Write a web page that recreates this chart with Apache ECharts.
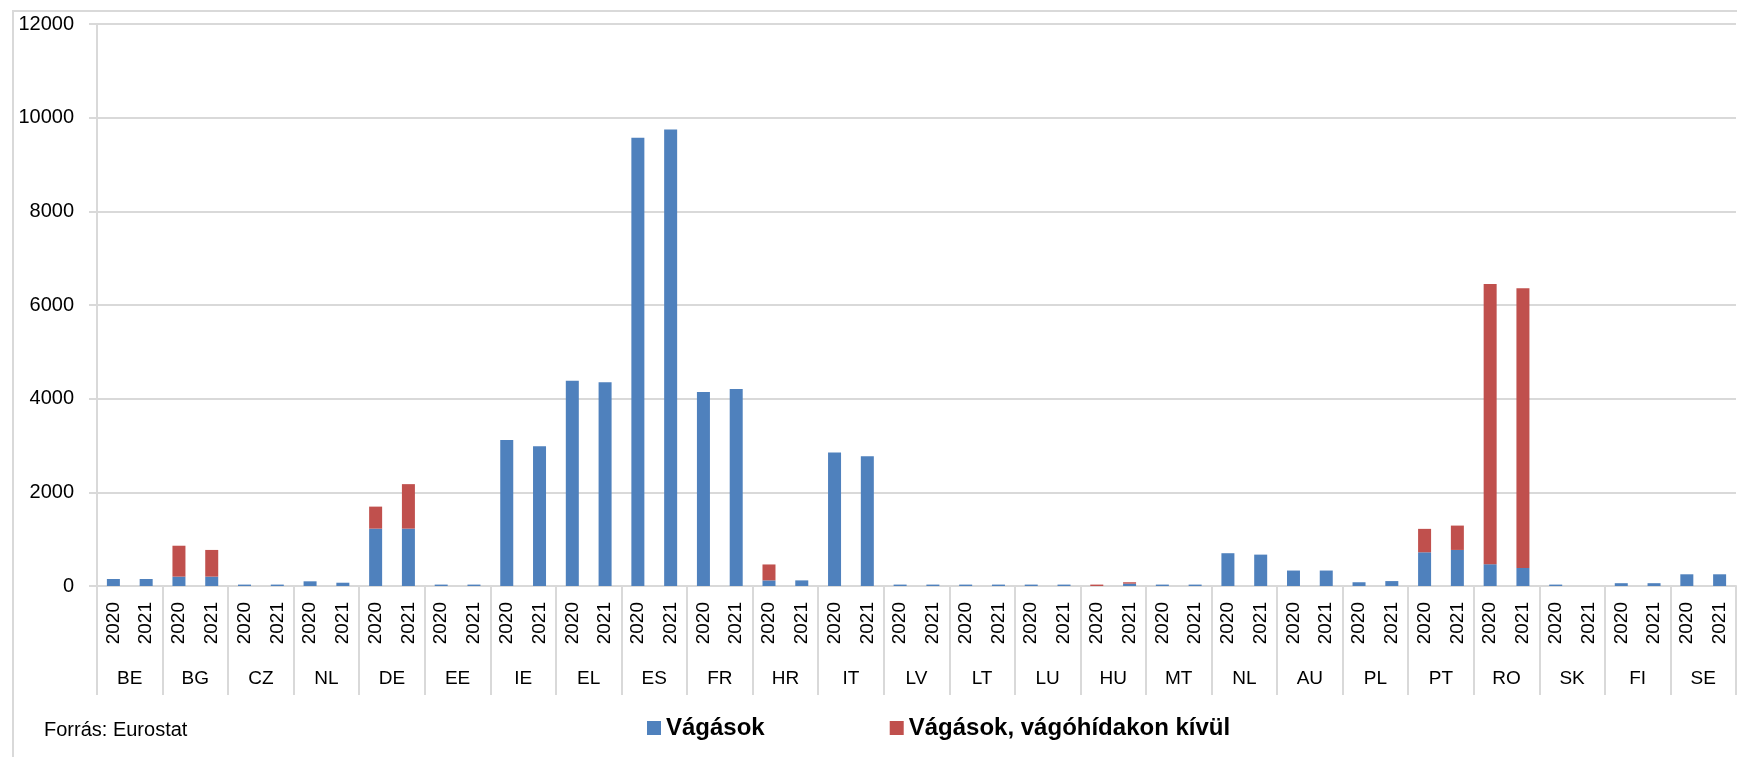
<!DOCTYPE html>
<html>
<head>
<meta charset="utf-8">
<script src="https://cdn.jsdelivr.net/npm/echarts@6/dist/echarts.min.js"></script>
<style>
  html, body { margin: 0; padding: 0; background: #fff; }
  #chart { width: 1737px; height: 757px; }
</style>
</head>
<body>
<div id="chart"></div>
<script>
var countries = ["BE", "BG", "CZ", "NL", "DE", "EE", "IE", "EL", "ES", "FR", "HR", "IT", "LV",
  "LT", "LU", "HU", "MT", "NL", "AU", "PL", "PT", "RO", "SK", "FI", "SE"];
var years = ["2020", "2021"];

// Vágások (blue), 2020/2021 per country
var slaughter = [
  150, 150,   // BE
  200, 200,   // BG
  30, 30,     // CZ
  100, 70,    // NL
  1225, 1225, // DE
  30, 30,     // EE
  3120, 2985, // IE
  4380, 4350, // EL
  9570, 9745, // ES
  4140, 4205, // FR
  120, 120,   // HR
  2850, 2770, // IT
  30, 30,     // LV
  30, 30,     // LT
  30, 30,     // LU
  0, 50,      // HU
  30, 30,     // MT
  700, 670,   // NL
  330, 330,   // AU
  80, 105,    // PL
  720, 770,   // PT
  465, 385,   // RO
  30, 0,      // SK
  60, 60,     // FI
  250, 250    // SE
];

// Vágások, vágóhídakon kívül (red)
var outside = [
  0, 0,       // BE
  660, 570,   // BG
  0, 0,       // CZ
  0, 0,       // NL
  470, 950,   // DE
  0, 0,       // EE
  0, 0,       // IE
  0, 0,       // EL
  0, 0,       // ES
  0, 0,       // FR
  340, 0,     // HR
  0, 0,       // IT
  0, 0,       // LV
  0, 0,       // LT
  0, 0,       // LU
  30, 30,     // HU
  0, 0,       // MT
  0, 0,       // NL
  0, 0,       // AU
  0, 0,       // PL
  500, 520,   // PT
  5985, 5970, // RO
  0, 0,       // SK
  0, 0,       // FI
  0, 0        // SE
];

var yearLabels = [];
countries.forEach(function () {
  years.forEach(function (y) { yearLabels.push(y); });
});

var chartDom = document.getElementById("chart");
var myChart = echarts.init(chartDom);
var gridColor = "#d9d9d9";
var font = "'Liberation Sans', Arial, sans-serif";

var option = {
  animation: false,
  textStyle: { fontFamily: font },
  graphic: [
    {
      type: "rect",
      shape: { x: 13, y: 11, width: 1800, height: 800 },
      style: { fill: "none", stroke: gridColor, lineWidth: 2 },
      silent: true
    }
  ],
  title: {
    text: "Forrás: Eurostat",
    left: 44,
    top: 720,
    padding: 0,
    textStyle: { fontSize: 20, fontWeight: "normal", color: "#000", fontFamily: font }
  },
  legend: {
    left: 647,
    top: 716,
    padding: 0,
    itemWidth: 14,
    itemHeight: 14,
    itemGap: 125,
    icon: "rect",
    textStyle: { fontSize: 24, fontWeight: "bold", color: "#000", fontFamily: font }
  },
  grid: {
    left: 97,
    right: 1,
    top: 24,
    bottom: 171,
    containLabel: false
  },
  xAxis: [
    {
      type: "category",
      position: "bottom",
      data: yearLabels,
      axisLine: { show: true, lineStyle: { color: gridColor, width: 2 } },
      axisTick: { show: false },
      axisLabel: {
        interval: 0,
        rotate: 90,
        margin: 16,
        fontSize: 19,
        color: "#000",
        fontFamily: font
      }
    },
    {
      type: "category",
      position: "bottom",
      data: countries,
      axisLine: { show: false },
      axisTick: {
        show: true,
        interval: 0,
        length: 109,
        inside: false,
        lineStyle: { color: gridColor, width: 2 }
      },
      axisLabel: {
        interval: 0,
        margin: 83,
        fontSize: 19,
        color: "#000",
        fontFamily: font
      },
      splitLine: { show: false }
    }
  ],
  yAxis: {
    type: "value",
    min: 0,
    max: 12000,
    interval: 2000,
    axisLine: { show: true, lineStyle: { color: gridColor, width: 2 } },
    axisTick: { show: true, length: 8, lineStyle: { color: gridColor, width: 2 } },
    axisLabel: {
      margin: 23,
      fontSize: 20,
      color: "#000",
      fontFamily: font,
      formatter: function (value) {
        return String(value);
      }
    },
    splitLine: { show: true, lineStyle: { color: gridColor, width: 2 } }
  },
  series: [
    {
      name: "Vágások",
      type: "bar",
      stack: "total",
      xAxisIndex: 0,
      barWidth: 13,
      itemStyle: { color: "#4f81bd" },
      data: slaughter
    },
    {
      name: "Vágások, vágóhídakon kívül",
      type: "bar",
      stack: "total",
      xAxisIndex: 0,
      barWidth: 13,
      itemStyle: { color: "#c0504d" },
      data: outside
    }
  ]
};

option && myChart.setOption(option);
</script>
</body>
</html>
